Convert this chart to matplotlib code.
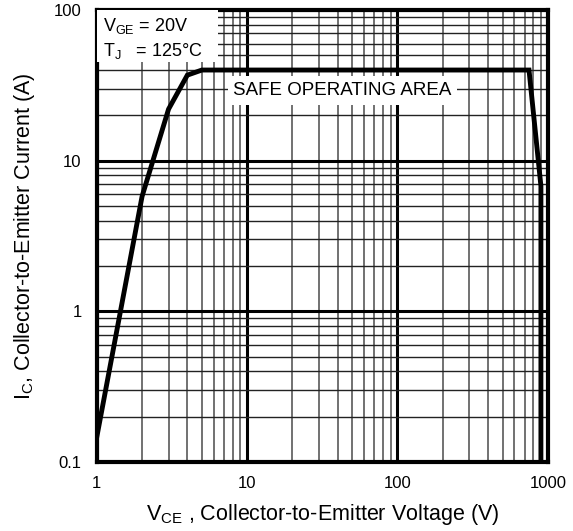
"""
Safe operating area curve, log-log, redrawn from a datasheet figure.
"""

import matplotlib
matplotlib.use("Agg")
import matplotlib.pyplot as plt
from matplotlib.ticker import LogLocator, FixedLocator, NullFormatter

plt.rcParams['font.family'] = ['Liberation Sans', 'DejaVu Sans']
plt.rcParams['mathtext.fontset'] = 'custom'
plt.rcParams['mathtext.rm'] = 'Liberation Sans'

# ── data ──────────────────────────────────────────────────────
vce = [1, 2, 3, 4, 5, 750, 900, 900]              # V
ic = [0.147, 5.8, 22, 37, 40, 40, 6.8, 0.1]       # A

x_ticks = [1, 10, 100, 1000]
x_labels = ["1", "10", "100", "1000"]
y_ticks = [0.1, 1, 10, 100]
y_labels = ["0.1", "1", "10", "100"]

# ── figure ─────────────────────────────────────────────────────
fig = plt.figure(figsize=(5.73, 5.31), dpi=100)
ax = fig.add_axes([0.169, 0.130, 0.787, 0.851])
ax.set_xscale('log')
ax.set_yscale('log')
ax.set_xlim(1, 1000)
ax.set_ylim(0.1, 100)

# grid: thick decades, thin minors
ax.xaxis.set_major_locator(FixedLocator(x_ticks))
ax.yaxis.set_major_locator(FixedLocator(y_ticks))
ax.xaxis.set_minor_locator(LogLocator(base=10, subs=range(2, 10)))
ax.yaxis.set_minor_locator(LogLocator(base=10, subs=range(2, 10)))
ax.xaxis.set_minor_formatter(NullFormatter())
ax.yaxis.set_minor_formatter(NullFormatter())
ax.grid(which='major', color='black', linewidth=2.2)
ax.grid(which='minor', axis='x', color='#666666', linewidth=1.3)
ax.grid(which='minor', axis='y', color='#222222', linewidth=1.0)
ax.set_axisbelow(True)

ax.set_xticks(x_ticks)
ax.set_xticklabels(x_labels)
ax.set_yticks(y_ticks)
ax.set_yticklabels(y_labels)
ax.tick_params(which='both', length=0, labelsize=12, pad=10)
ax.tick_params(axis='y', pad=11)

for sp in ax.spines.values():
    sp.set_linewidth(3)

ax.plot(vce, ic, color='black', linewidth=3.5, solid_joinstyle='miter', zorder=5)

# annotations
ax.add_patch(plt.Rectangle((0.0, 0.885), 0.268, 0.115, transform=ax.transAxes,
                           facecolor='white', edgecolor='none', zorder=3))
ax.text(0.014, 0.965, r"V$_{\mathregular{GE}}$ = 20V", transform=ax.transAxes,
        fontsize=13, va='center', ha='left', zorder=4)
ax.text(0.014, 0.91, r"T$_{\mathregular{J}}$   = 125°C", transform=ax.transAxes,
        fontsize=13, va='center', ha='left', zorder=4)

ax.text(0.545, 0.822, "SAFE OPERATING AREA", transform=ax.transAxes,
        fontsize=13.5, va='center', ha='center', zorder=4,
        bbox=dict(facecolor='white', edgecolor='none', pad=4))

ax.set_xlabel(r"V$_{\mathregular{CE}}$ , Collector-to-Emitter Voltage (V)", fontsize=15.5, labelpad=8)
ax.set_ylabel(r"I$_{\mathregular{C}}$, Collector-to-Emitter Current (A)", fontsize=15.5, labelpad=12)

plt.savefig("out.png", dpi=100)
